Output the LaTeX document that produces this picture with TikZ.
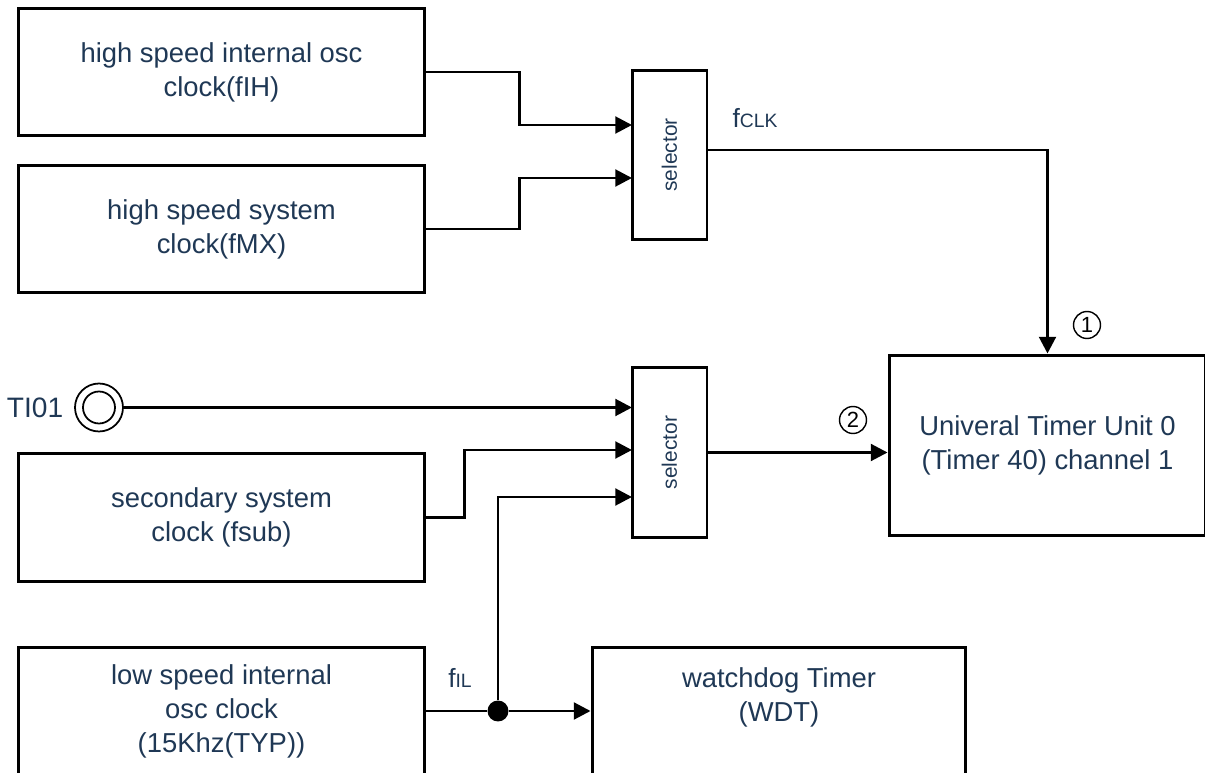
\documentclass[tikz,border=0pt]{standalone}
\usepackage{graphicx}
\usepackage{fontspec}
\setmainfont{Liberation Sans}
\usetikzlibrary{arrows.meta,positioning}
\definecolor{labelblue}{RGB}{31,56,85}

\tikzset{
  blk/.style={draw, line width=1.7pt, minimum width=8.14cm, minimum height=2.56cm,
    align=center, text=labelblue, font=\fontsize{15.6}{19.3}\selectfont},
  selbox/.style={draw, line width=1.7pt, minimum width=1.5cm, minimum height=3.4cm,
    text=labelblue, font=\fontsize{11.9}{14}\selectfont},
  wire/.style={line width=1.7pt},
  arr/.style={wire, -{Triangle[length=9.5pt,width=9.5pt]}},
  lbl/.style={text=labelblue, inner sep=0pt},
  num/.style={circle, draw, line width=0.8pt, inner sep=0pt, minimum size=0.54cm,
    font=\fontsize{12.5}{13}\selectfont},
}

\begin{document}
\begin{tikzpicture}[x=0.02cm, y=-0.02cm]
    \useasboundingbox (0,0) rectangle (1205,773);
    \clip (0,0) rectangle (1205,773);

    % Clock sources
    \node[blk] (src1) at (221.5,72)  {high speed internal osc\\clock(fIH)};
    \node[blk] (src2) at (221.5,229) {high speed system\\clock(fMX)};
    \node[blk] (src3) at (221.5,517.5) {secondary system\\clock (fsub)};
    \node[blk] (src4) at (221.5,711) {low speed internal\\osc clock\\(15Khz(TYP))};

    % Selectors
    \node[selbox] (sel1) at (669.5,155)   {\rotatebox{90}{selector}};
    \node[selbox] (sel2) at (669.5,452.5) {\rotatebox{90}{selector}};
    \coordinate (s1in1) at (632,125);
    \coordinate (s1in2) at (632,178);
    \coordinate (s1out) at (707,150);
    \coordinate (s2in1) at (632,407.5);
    \coordinate (s2in2) at (632,450);
    \coordinate (s2in3) at (632,497);

    % Timers
    \node[blk, minimum width=6.34cm, minimum height=3.62cm] (utu) at (1047.5,445.5)
        {Univeral Timer Unit 0\\(Timer 40) channel 1};
    \node[blk, minimum width=7.48cm] (wdt) at (779,711) {};
    \node[lbl, align=center, font=\fontsize{15.6}{19.3}\selectfont] (wdtlbl) at (779,697)
        {watchdog Timer\\(WDT)};

    % External pin TI01
    \node[circle, draw, line width=1pt, minimum size=0.96cm] (ti) at (99,407.5) {};
    \draw[line width=1pt] (ti.center) circle (16);
    \node[lbl, font=\fontsize{16}{19.3}\selectfont, left=6pt of ti] (tilbl) {TI01};

    % Branch point of fIL
    \node[circle, fill, inner sep=0pt, minimum size=0.42cm] (jn) at (498,711) {};

    % Connections
    \draw[arr] (src1.east) -- ++(93,0) |- (s1in1);
    \draw[arr] (src2.east) -- ++(93,0) |- (s1in2);
    \draw[arr] (s1out) -| (utu.north);
    \draw[arr] (ti.east) -- (s2in1);
    \draw[arr] (src3.east) -- ++(38,0) |- (s2in2);
    \draw[arr] (jn) |- (s2in3);
    \draw[wire] (src4.east) -- (jn);
    \draw[arr] (jn) -- (wdt.west);
    \draw[arr] (sel2.east) -- (sel2.east -| utu.west);

    % Signal labels
    \node[lbl] (fclk) at (755,118) {\fontsize{15}{16}\selectfont f\fontsize{11}{12}\selectfont CLK};
    \node[lbl] (fil) at (460,678) {\fontsize{15}{16}\selectfont f\fontsize{11}{12}\selectfont IL};
    \node[num] (one) at (1087,325) {1};
    \node[num] (two) at (853,420) {2};
\end{tikzpicture}
\end{document}
